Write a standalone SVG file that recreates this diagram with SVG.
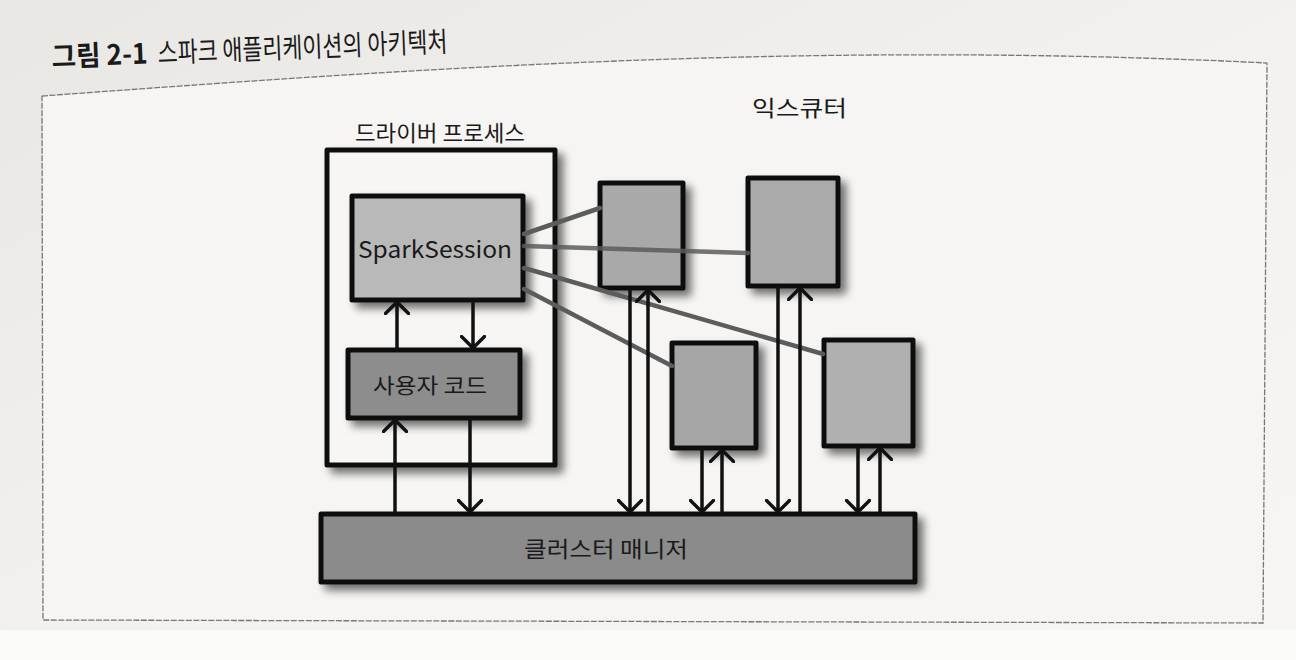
<svg xmlns="http://www.w3.org/2000/svg" width="1296" height="660" viewBox="0 0 1296 660">
<style>
.bx{stroke:#111;stroke-width:5;stroke-linejoin:round}
.lbl{font-family:"Noto Sans CJK KR","Noto Sans",sans-serif;fill:#1a1a1a}
.arr{stroke:#111;stroke-width:3.5;fill:none;marker-end:url(#chev)}
.gl{stroke:#5c5c5c;stroke-width:4.5;fill:none;stroke-linecap:round}
</style>
<defs>
<linearGradient id="bg" x1="0" y1="0" x2="1" y2="1">
<stop offset="0" stop-color="#e9e7e4"/>
<stop offset="0.5" stop-color="#f3f1ee"/>
<stop offset="1" stop-color="#f7f6f4"/>
</linearGradient>
<filter id="sh" x="-20%" y="-20%" width="150%" height="150%">
<feGaussianBlur in="SourceAlpha" stdDeviation="4"/>
<feOffset dx="6" dy="6" result="b"/>
<feComponentTransfer><feFuncA type="linear" slope="0.55"/></feComponentTransfer>
<feMerge><feMergeNode/><feMergeNode in="SourceGraphic"/></feMerge>
</filter>
<marker id="chev" viewBox="0 0 15 26" refX="13" refY="13" markerWidth="15" markerHeight="26" markerUnits="userSpaceOnUse" orient="auto">
<path d="M1.5,1.5 L13,13 L1.5,24.5" fill="none" stroke="#111" stroke-width="3.4" stroke-linecap="round" stroke-linejoin="round"/>
</marker>
</defs>
<rect x="0" y="0" width="1296" height="660" fill="url(#bg)"/>
<rect x="0" y="630" width="1296" height="30" fill="#fafaf9"/>
<path d="M42,96 C400,70 800,40 1267,63 L1263,623 L43,620 Z" fill="#f6f5f3" stroke="#777" stroke-width="1.3" stroke-dasharray="6 1.5"/>
<g id="title" transform="rotate(-2.2 52 67)">
<text x="52" y="67" class="lbl" font-family="'Liberation Sans','Noto Sans CJK KR',sans-serif" font-weight="bold" font-size="28" textLength="96" lengthAdjust="spacingAndGlyphs">그림 2-1</text>
<text x="158" y="67" class="lbl" font-size="28" textLength="290" lengthAdjust="spacingAndGlyphs">스파크 애플리케이션의 아키텍처</text>
</g>
<g id="driver">
<rect x="327" y="150" width="228" height="315" class="bx" fill="#f7f6f4" filter="url(#sh)"/>
<text x="355" y="141" class="lbl" font-size="22" textLength="170" lengthAdjust="spacingAndGlyphs">드라이버 프로세스</text>
</g>
<g id="sparksession">
<rect x="352" y="196" width="171" height="104" class="bx" fill="#b9b9b9" filter="url(#sh)"/>
<text x="358" y="258" class="lbl" font-family="'DejaVu Sans',sans-serif" font-size="23" textLength="154" lengthAdjust="spacingAndGlyphs">SparkSession</text>
</g>
<g id="usercode">
<rect x="348" y="350" width="172" height="68" class="bx" fill="#8d8d8d" filter="url(#sh)"/>
<text x="373" y="393" class="lbl" font-size="21" textLength="114" lengthAdjust="spacingAndGlyphs">사용자 코드</text>
</g>
<g id="executors-label">
<text x="752" y="116" class="lbl" font-size="22" textLength="95" lengthAdjust="spacingAndGlyphs">익스큐터</text>
</g>
<g id="executor1"><rect x="600" y="183" width="83" height="105" class="bx" fill="#a9a9a9" filter="url(#sh)"/></g>
<g id="executor2"><rect x="748" y="178" width="90" height="108" class="bx" fill="#ababab" filter="url(#sh)"/></g>
<g id="executor3"><rect x="672" y="343" width="84" height="105" class="bx" fill="#a6a6a6" filter="url(#sh)"/></g>
<g id="executor4"><rect x="824" y="340" width="89" height="106" class="bx" fill="#b0b0b0" filter="url(#sh)"/></g>
<g id="clustermanager">
<rect x="321" y="514" width="594" height="68" class="bx" fill="#8b8b8b" filter="url(#sh)"/>
<text x="524" y="557" class="lbl" font-size="22" textLength="164" lengthAdjust="spacingAndGlyphs">클러스터 매니저</text>
</g>
<g id="connectors">
<path class="gl" d="M524,234 L600,208"/>
<path class="gl" d="M524,246 L748,253" opacity="0.85"/>
<path class="gl" d="M524,268 L823,354"/>
<path class="gl" d="M524,289 L672,366"/>
<path class="arr" d="M397,350 L397,302"/>
<path class="arr" d="M473,300 L473,348"/>
<path class="arr" d="M395,514 L395,420"/>
<path class="arr" d="M470,418 L470,512"/>
<path class="arr" d="M630,288 L630,512"/>
<path class="arr" d="M648,514 L648,290"/>
<path class="arr" d="M778,286 L778,512"/>
<path class="arr" d="M800,514 L800,288"/>
<path class="arr" d="M702,448 L702,512"/>
<path class="arr" d="M722,514 L722,450"/>
<path class="arr" d="M858,446 L858,512"/>
<path class="arr" d="M880,514 L880,448"/>
</g>
</svg>
